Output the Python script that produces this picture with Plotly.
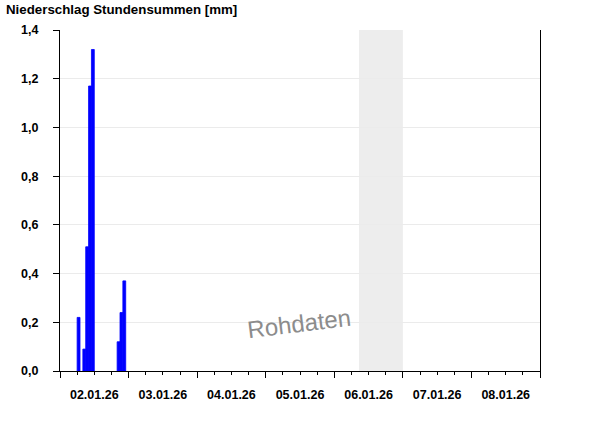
import plotly.graph_objects as go

# ---- data ----
hour_starts = [
    "2026-01-02 06:00", "2026-01-02 08:00", "2026-01-02 09:00",
    "2026-01-02 10:00", "2026-01-02 11:00",
    "2026-01-02 20:00", "2026-01-02 21:00", "2026-01-02 22:00",
]
precip_mm = [0.22, 0.09, 0.51, 1.17, 1.32, 0.12, 0.24, 0.37]

x_range = ["2026-01-02 00:00", "2026-01-09 00:00"]
shaded_period = ["2026-01-06 08:40", "2026-01-07 00:00"]
y_ticks = [0.0, 0.2, 0.4, 0.6, 0.8, 1.0, 1.2, 1.4]

title_text = "Niederschlag Stundensummen [mm]"
watermark_text = "Rohdaten"

HOUR_MS = 3600000
FONT = "Liberation Sans, Arial, sans-serif"

fig = go.Figure(
    go.Bar(
        x=hour_starts,
        y=precip_mm,
        width=HOUR_MS,
        offset=0,
        marker=dict(color="#0000ff", line=dict(width=0.8, color="#0000ff")),
        hoverinfo="x+y",
    )
)

fig.add_shape(
    type="rect", xref="x", yref="paper",
    x0=shaded_period[0], x1=shaded_period[1], y0=0, y1=1,
    fillcolor="#ededed", line=dict(width=0), layer="below",
)

fig.add_annotation(
    text=watermark_text, xref="paper", yref="paper",
    x=0.498, y=0.076, showarrow=False, textangle=-7,
    font=dict(family=FONT, size=24, color="#8c8c8c", weight="normal"),
)

fig.update_layout(
    width=600, height=426,
    margin=dict(l=60, r=60, t=30, b=55),
    paper_bgcolor="white", plot_bgcolor="white",
    separators=",.",
    showlegend=False,
    font=dict(family=FONT, size=12.5, color="black", weight="bold"),
    title=dict(
        text=title_text, xref="container", yref="container",
        x=0.01, xanchor="left", y=0.977, yanchor="middle",
        font=dict(family=FONT, size=13.3, color="black", weight="bold"),
    ),
    xaxis=dict(
        type="date", range=x_range,
        tick0="2026-01-02", dtick=86400000,
        tickformat="%d.%m.%y", ticklabelmode="period",
        ticks="outside", ticklen=6, tickcolor="black", tickwidth=1,
        showline=True, linecolor="black", linewidth=1,
        showgrid=False, zeroline=False,
        ticklabelstandoff=6,
        minor=dict(dtick=21600000, tick0="2026-01-02", ticks="outside",
                   ticklen=3, tickcolor="black", showgrid=False),
        fixedrange=True,
    ),
    yaxis=dict(
        range=[0, 1.4], tickvals=y_ticks, tickformat=".1f",
        ticks="outside", ticklen=6, tickcolor="black",
        showline=True, linecolor="black", linewidth=1, mirror=True,
        showgrid=True, gridcolor="#ebebeb", gridwidth=1,
        zeroline=False, ticklabelstandoff=12,
        fixedrange=True,
    ),
)

fig.write_html(
    "out.html",
    config={"displayModeBar": False},
    post_script="document.body.style.margin='0';document.body.style.padding='0';",
)
